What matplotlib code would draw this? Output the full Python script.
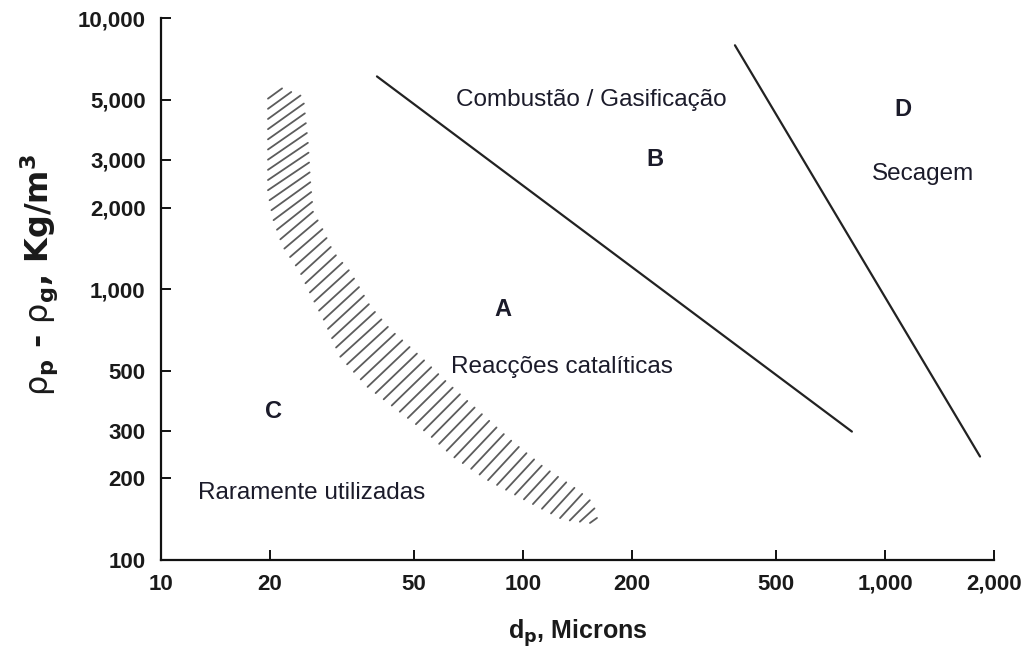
import matplotlib
matplotlib.use("Agg")
import numpy as np
import matplotlib.pyplot as plt
from matplotlib.collections import LineCollection
from matplotlib.ticker import FixedLocator, FixedFormatter, NullLocator

plt.rcParams['font.family'] = ['Liberation Sans', 'DejaVu Sans']
plt.rcParams['mathtext.fontset'] = 'custom'
plt.rcParams['mathtext.rm'] = 'DejaVu Sans:bold'
plt.rcParams['mathtext.bf'] = 'DejaVu Sans:bold'
plt.rcParams['mathtext.it'] = 'DejaVu Sans'

# Axis ticks
x_ticks = [10, 20, 50, 100, 200, 500, 1000, 2000]
x_tick_labels = ['10', '20', '50', '100', '200', '500', '1,000', '2,000']
y_ticks = [100, 200, 300, 500, 1000, 2000, 3000, 5000, 10000]
y_tick_labels = ['100', '200', '300', '500', '1,000', '2,000', '3,000', '5,000', '10,000']

# Group boundaries (particle diameter in microns, density difference in kg/m3)
ab_x = [39.5, 810]
ab_y = [6100, 298]
bd_x = [385, 1830]
bd_y = [7950, 241]

# Transition band between groups C and A (lower-left and upper-right edges)
band_left_x = [19.75, 19.75, 19.75, 20.4, 21.7, 24.2, 26.3, 28.4, 31.2, 37.1,
               44.9, 54.3, 64.1, 79.6, 104.5, 128.9, 153.1]
band_left_y = [5050, 3390, 2290, 1820, 1440, 1160, 920, 755, 565, 437,
               359, 295, 241, 198, 163, 141, 137]
band_right_x = [21.6, 24.7, 25.5, 25.8, 26.3, 27.9, 29.9, 33.3, 37.8, 42.9,
                51.9, 61.7, 74.6, 92.1, 113.6, 141.0, 156.1, 160.1]
band_right_y = [5510, 5140, 3390, 2550, 1930, 1670, 1370, 1160, 865, 711,
                565, 452, 359, 278, 221, 182, 162.5, 143]
n_hatch = 58

# Region letters and descriptions: (text, x, y, bold)
region_labels = [
    ('A', 88, 794, True),
    ('B', 231, 2850, True),
    ('C', 20.4, 335, True),
    ('D', 1120, 4370, True),
    ('Combustão / Gasificação', 154, 4750, False),
    ('Secagem', 1270, 2530, False),
    ('Reacções catalíticas', 128, 489, False),
    ('Raramente utilizadas', 26.0, 168, False),
]

fig = plt.figure(figsize=(10.24, 6.53), dpi=100)
ax = fig.add_axes([0.1572, 0.1424, 0.8135, 0.8296])
ax.set_xscale('log')
ax.set_yscale('log')
ax.set_xlim(10, 2000)
ax.set_ylim(100, 10000)


def resample_edge(xs, ys, t):
    """Points along an edge at fractions t of its on-screen length."""
    pts = ax.transData.transform(np.column_stack([xs, ys]))
    seg = np.hypot(*np.diff(pts, axis=0).T)
    s = np.concatenate([[0], np.cumsum(seg)]) / seg.sum()
    return np.column_stack([np.interp(t, s, pts[:, 0]),
                            np.interp(t, s, pts[:, 1])])


# Hand-style hatching: strokes joining the two edges of the band
t = np.linspace(0, 1, n_hatch)
lower = resample_edge(band_left_x, band_left_y, t)
upper = resample_edge(band_right_x, band_right_y, t)
inv = ax.transData.inverted()
strokes = [inv.transform(np.vstack([a, b])) for a, b in zip(lower, upper)]
ax.add_collection(LineCollection(strokes, colors='#5c5c5c', linewidths=1.3,
                                 capstyle='round'))

ax.plot(ab_x, ab_y, color='#222222', lw=1.6, solid_capstyle='round')
ax.plot(bd_x, bd_y, color='#222222', lw=1.6, solid_capstyle='round')

for text, x, y, bold in region_labels:
    ax.text(x, y, text, ha='center', va='baseline',
            fontsize=17 if bold else 17.5,
            fontweight='bold' if bold else 'normal', color='#1b1b2a')

for side in ('top', 'right'):
    ax.spines[side].set_visible(False)
for side in ('left', 'bottom'):
    ax.spines[side].set_linewidth(1.6)
    ax.spines[side].set_color('#111111')

ax.xaxis.set_major_locator(FixedLocator(x_ticks))
ax.xaxis.set_major_formatter(FixedFormatter(x_tick_labels))
ax.xaxis.set_minor_locator(NullLocator())
ax.yaxis.set_major_locator(FixedLocator(y_ticks))
ax.yaxis.set_major_formatter(FixedFormatter(y_tick_labels))
ax.yaxis.set_minor_locator(NullLocator())
ax.tick_params(axis='both', direction='in', length=7, width=1.4,
               color='#111111', labelsize=16, labelcolor='#1a1a1a')
ax.tick_params(axis='x', pad=10)
ax.tick_params(axis='y', pad=11)
for lbl in ax.get_xticklabels() + ax.get_yticklabels():
    lbl.set_fontweight('bold')

ax.set_xlabel(r'd$_{\mathbf{p}}$, Microns', fontsize=18, fontweight='bold',
              color='#1a1a1a', labelpad=16)
ax.set_ylabel(r'$\rho_{\mathbf{p}}$ - $\rho_{\mathbf{g}}$, Kg/m$^{\mathbf{3}}$',
              fontsize=23, fontweight='bold', family='DejaVu Sans',
              color='#1a1a1a')
ax.yaxis.set_label_coords(-0.121, 0.526)

fig.savefig('out.png', dpi=100, facecolor='white')
